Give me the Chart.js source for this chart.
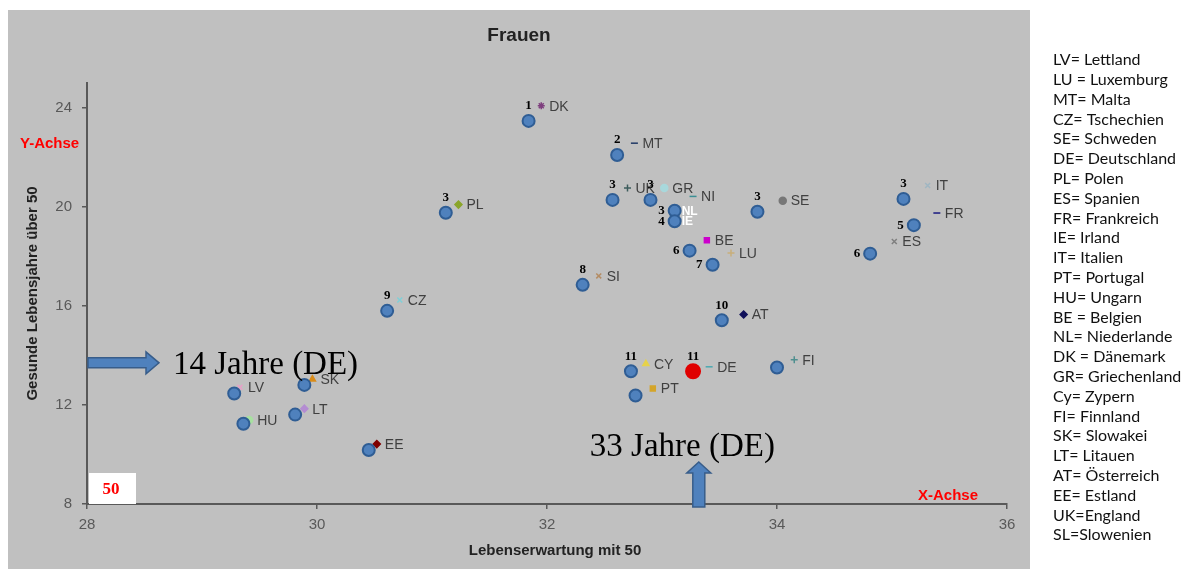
<!DOCTYPE html>
<html>
<head>
<meta charset="utf-8">
<script src="https://cdn.jsdelivr.net/npm/chart.js@4"></script>
<style>
  html, body { margin: 0; padding: 0; background: #fff; }
  #wrap { position: absolute; left: 0; top: 0; width: 1188px; height: 569px; }
</style>
</head>
<body>
<div id="wrap"><canvas id="chart" width="1188" height="569"></canvas></div>
<script>
// --- data ---------------------------------------------------------------------
const xTicks = [28, 30, 32, 34, 36];
const yTicks = [8, 12, 16, 20, 24];

// small Excel markers with country codes
const codes    = ['DK','MT','UK','GR','NI','PL','SE','IT','FR','ES','BE','LU','SI','CZ','AT','CY','DE','FI','PT','LV','SK','LT','HU','EE'];
const markerX  = [31.95,32.76,32.70,33.02,33.27,31.23,34.05,35.31,35.39,35.02,33.39,33.60,32.45,30.72,33.71,32.86,33.41,34.15,32.92,29.33,29.96,29.89,29.41,30.52];
const markerY  = [24.08,22.57,20.76,20.76,20.42,20.09,20.25,20.86,19.75,18.60,18.65,18.14,17.21,16.24,15.65,13.66,13.54,13.82,12.66,12.71,13.04,11.85,11.39,10.42];
const markerColors = ['#7e3f7e','#1f3864','#3d5c5c','#a8d8dc','#3b8f94','#8aa52a','#777777','#9fb6c2','#1a1a80','#7f7f7f','#cc00cc','#c8ae7a','#b48c64','#7fd0d8','#10105a','#e6d24a','#4aa8b0','#4f8f8f','#d4a52a','#e8a0c8','#d98c1a','#b48cd2','#a8e0a0','#7f0000'];
const markerStyles = ['star','line','cross','circle','line','rectRot','circle','crossRot','line','crossRot','rect','cross','crossRot','crossRot','rectRot','triangle','line','cross','rect','crossRot','triangle','rectRot','circle','rectRot'];

// overlaid blue circles with rank numbers
const circleCodes = ['DK','MT','UK','GR','NL','IE','PL','SE','IT','FR','ES','BE','LU','SI','CZ','AT','CY','DE','FI','PT','LV','SK','LT','HU','EE'];
const circleX = [31.84,32.61,32.57,32.90,33.11,33.11,31.12,33.83,35.10,35.19,34.81,33.24,33.44,32.31,30.61,33.52,32.73,33.27,34.00,32.77,29.28,29.89,29.81,29.36,30.45];
const circleY = [23.47,22.09,20.28,20.28,19.84,19.42,19.76,19.80,20.32,19.26,18.11,18.23,17.66,16.85,15.80,15.42,13.36,13.36,13.51,12.38,12.46,12.81,11.61,11.24,10.18];
const ranks   = ['1','2','3','3','3','4','3','3','3','5','6','6','7','8','9','10','11','11','','','','','','',''];
const rankSide = ['a','a','a','a','l','l','a','a','a','l','l','l','l','a','a','a','a','a','','','','','','',''];
const whiteTags = ['', '', '', '', 'NL', 'IE', '', '', '', '', '', '', '', '', '', '', '', '', '', '', '', '', '', '', ''];

// annotations
const deHealthy = 13.7;   // arrow pointing at y
const deLifeExp = 33.32;  // arrow pointing at x

const legendLines = ['LV= Lettland','LU = Luxemburg','MT= Malta','CZ= Tschechien','SE= Schweden','DE= Deutschland','PL= Polen','ES= Spanien','FR= Frankreich','IE= Irland','IT= Italien','PT= Portugal','HU= Ungarn','BE = Belgien','NL= Niederlande','DK = Dänemark','GR= Griechenland','Cy= Zypern','FI= Finnland','SK= Slowakei','LT= Litauen','AT= Österreich','EE= Estland','UK=England','SL=Slowenien'];

// --- drawing -------------------------------------------------------------------
const SANS = '"Liberation Sans", Arial, sans-serif';
const SERIF = '"Liberation Serif", "Times New Roman", serif';
const AXIS = '#595959';

function blockArrowRight(ctx, x0, x1, y) {
  ctx.beginPath();
  ctx.moveTo(x0, y - 5); ctx.lineTo(x1 - 13, y - 5); ctx.lineTo(x1 - 13, y - 11);
  ctx.lineTo(x1, y); ctx.lineTo(x1 - 13, y + 11); ctx.lineTo(x1 - 13, y + 5);
  ctx.lineTo(x0, y + 5); ctx.closePath();
  ctx.fillStyle = '#4f81bd'; ctx.fill();
  ctx.strokeStyle = '#385d8a'; ctx.lineWidth = 1.5; ctx.stroke();
}
function blockArrowUp(ctx, x, y0, y1) {
  ctx.beginPath();
  ctx.moveTo(x - 6, y0); ctx.lineTo(x - 6, y1 + 11); ctx.lineTo(x - 12, y1 + 11);
  ctx.lineTo(x, y1); ctx.lineTo(x + 12, y1 + 11); ctx.lineTo(x + 6, y1 + 11);
  ctx.lineTo(x + 6, y0); ctx.closePath();
  ctx.fillStyle = '#4f81bd'; ctx.fill();
  ctx.strokeStyle = '#385d8a'; ctx.lineWidth = 1.5; ctx.stroke();
}

const overlay = {
  id: 'overlay',
  beforeDraw(chart) {
    const ctx = chart.ctx;
    ctx.save();
    ctx.fillStyle = '#ffffff'; ctx.fillRect(0, 0, chart.width, chart.height);
    ctx.fillStyle = '#c0c0c0'; ctx.fillRect(8, 10, 1022, 559);
    ctx.restore();
  },
  afterDraw(chart) {
    const ctx = chart.ctx, xs = chart.scales.x, ys = chart.scales.y, ca = chart.chartArea;
    ctx.save();

    // country codes next to small markers
    ctx.font = '14px ' + SANS; ctx.fillStyle = '#404040';
    ctx.textAlign = 'left'; ctx.textBaseline = 'middle';
    codes.forEach((c, i) => ctx.fillText(c, xs.getPixelForValue(markerX[i]) + 8, ys.getPixelForValue(markerY[i]) + 1));

    // rank numbers
    ctx.font = 'bold 13px ' + SERIF; ctx.fillStyle = '#000';
    ranks.forEach((r, i) => {
      if (!r) return;
      const px = xs.getPixelForValue(circleX[i]), py = ys.getPixelForValue(circleY[i]);
      if (rankSide[i] === 'l') { ctx.textAlign = 'right'; ctx.fillText(r, px - 10, py); }
      else { ctx.textAlign = 'center'; ctx.fillText(r, px, py - 15); }
    });
    // white tags NL / IE
    ctx.font = 'bold 12px ' + SANS; ctx.fillStyle = '#ffffff'; ctx.textAlign = 'left';
    whiteTags.forEach((t, i) => {
      if (t) ctx.fillText(t, xs.getPixelForValue(circleX[i]) + 7, ys.getPixelForValue(circleY[i]) + 1);
    });

    // title and axis titles
    ctx.fillStyle = '#222'; ctx.textAlign = 'center';
    ctx.font = 'bold 19px ' + SANS;
    ctx.fillText('Frauen', 519, 36);
    ctx.font = 'bold 15px ' + SANS;
    ctx.fillText('Lebenserwartung mit 50', 555, 551);
    ctx.save();
    ctx.translate(33, (ca.top + ca.bottom) / 2);
    ctx.rotate(-Math.PI / 2);
    ctx.fillText('Gesunde Lebensjahre über 50', 0, 0);
    ctx.restore();

    // red axis hints
    ctx.fillStyle = '#ff0000'; ctx.font = 'bold 15px ' + SANS;
    ctx.textAlign = 'left';
    ctx.fillText('Y-Achse', 20, 144);
    ctx.fillText('X-Achse', 918, 496);

    // "50" box at the origin
    ctx.fillStyle = '#ffffff'; ctx.fillRect(ca.left + 2, ca.bottom - 31, 47, 31);
    ctx.fillStyle = '#ff0000'; ctx.font = 'bold 17px ' + SERIF; ctx.textAlign = 'center';
    ctx.fillText('50', ca.left + 24, ca.bottom - 14);

    // DE arrows and captions
    const ay = ys.getPixelForValue(deHealthy);
    blockArrowRight(ctx, ca.left + 1, ca.left + 72, ay);
    const ax = xs.getPixelForValue(deLifeExp);
    blockArrowUp(ctx, ax, ca.bottom + 3, ca.bottom - 42);
    ctx.fillStyle = '#000'; ctx.font = '33px ' + SERIF; ctx.textAlign = 'left'; ctx.textBaseline = 'alphabetic';
    ctx.fillText('14 Jahre (DE)', ca.left + 86, ay + 11);
    ctx.fillText('33 Jahre (DE)', ax - 109, ca.bottom - 48);

    // code legend at the right
    ctx.fillStyle = '#111'; ctx.font = '16px Lato, ' + SANS; ctx.textBaseline = 'middle';
    legendLines.forEach((t, i) => ctx.fillText(t, 1053, 60 + i * 19.8));

    ctx.restore();
  }
};

new Chart(document.getElementById('chart'), {
  type: 'scatter',
  data: {
    datasets: [
      {
        label: 'Rang',
        data: circleX.map((x, i) => ({ x, y: circleY[i] })),
        pointRadius: circleCodes.map(c => c === 'DE' ? 7 : 6),
        pointBackgroundColor: circleCodes.map(c => c === 'DE' ? '#e00000' : '#4f81bd'),
        pointBorderColor: circleCodes.map(c => c === 'DE' ? '#e00000' : '#2f5d94'),
        pointBorderWidth: 2,
      },
      {
        label: 'Länder',
        data: markerX.map((x, i) => ({ x, y: markerY[i] })),
        pointStyle: markerStyles,
        pointRadius: 3.5,
        pointBackgroundColor: markerColors,
        pointBorderColor: markerColors,
        pointBorderWidth: 1.5,
      },
    ],
  },
  options: {
    responsive: false,
    animation: false,
    events: [],
    layout: { padding: { top: 83, right: 181, bottom: 0, left: 0 } },
    plugins: { legend: { display: false }, tooltip: { enabled: false } },
    scales: {
      x: {
        type: 'linear', min: 28, max: 36,
        afterBuildTicks: (s) => { s.ticks = xTicks.map(v => ({ value: v })); },
        afterFit: (s) => { s.height = 65; },
        grid: { drawOnChartArea: false, drawTicks: true, tickLength: 5, color: AXIS, lineWidth: 1.5 },
        border: { color: AXIS, width: 2 },
        ticks: { color: AXIS, font: { family: SANS, size: 15 }, padding: 7, maxRotation: 0 },
      },
      y: {
        type: 'linear', min: 8, max: 25,
        afterBuildTicks: (s) => { s.ticks = yTicks.map(v => ({ value: v })); },
        afterFit: (s) => { s.width = 87; },
        grid: { drawOnChartArea: false, drawTicks: true, tickLength: 5, color: AXIS, lineWidth: 1.5 },
        border: { color: AXIS, width: 2 },
        ticks: { color: AXIS, font: { family: SANS, size: 15 }, padding: 10 },
      },
    },
  },
  plugins: [overlay],
});
</script>
</body>
</html>
